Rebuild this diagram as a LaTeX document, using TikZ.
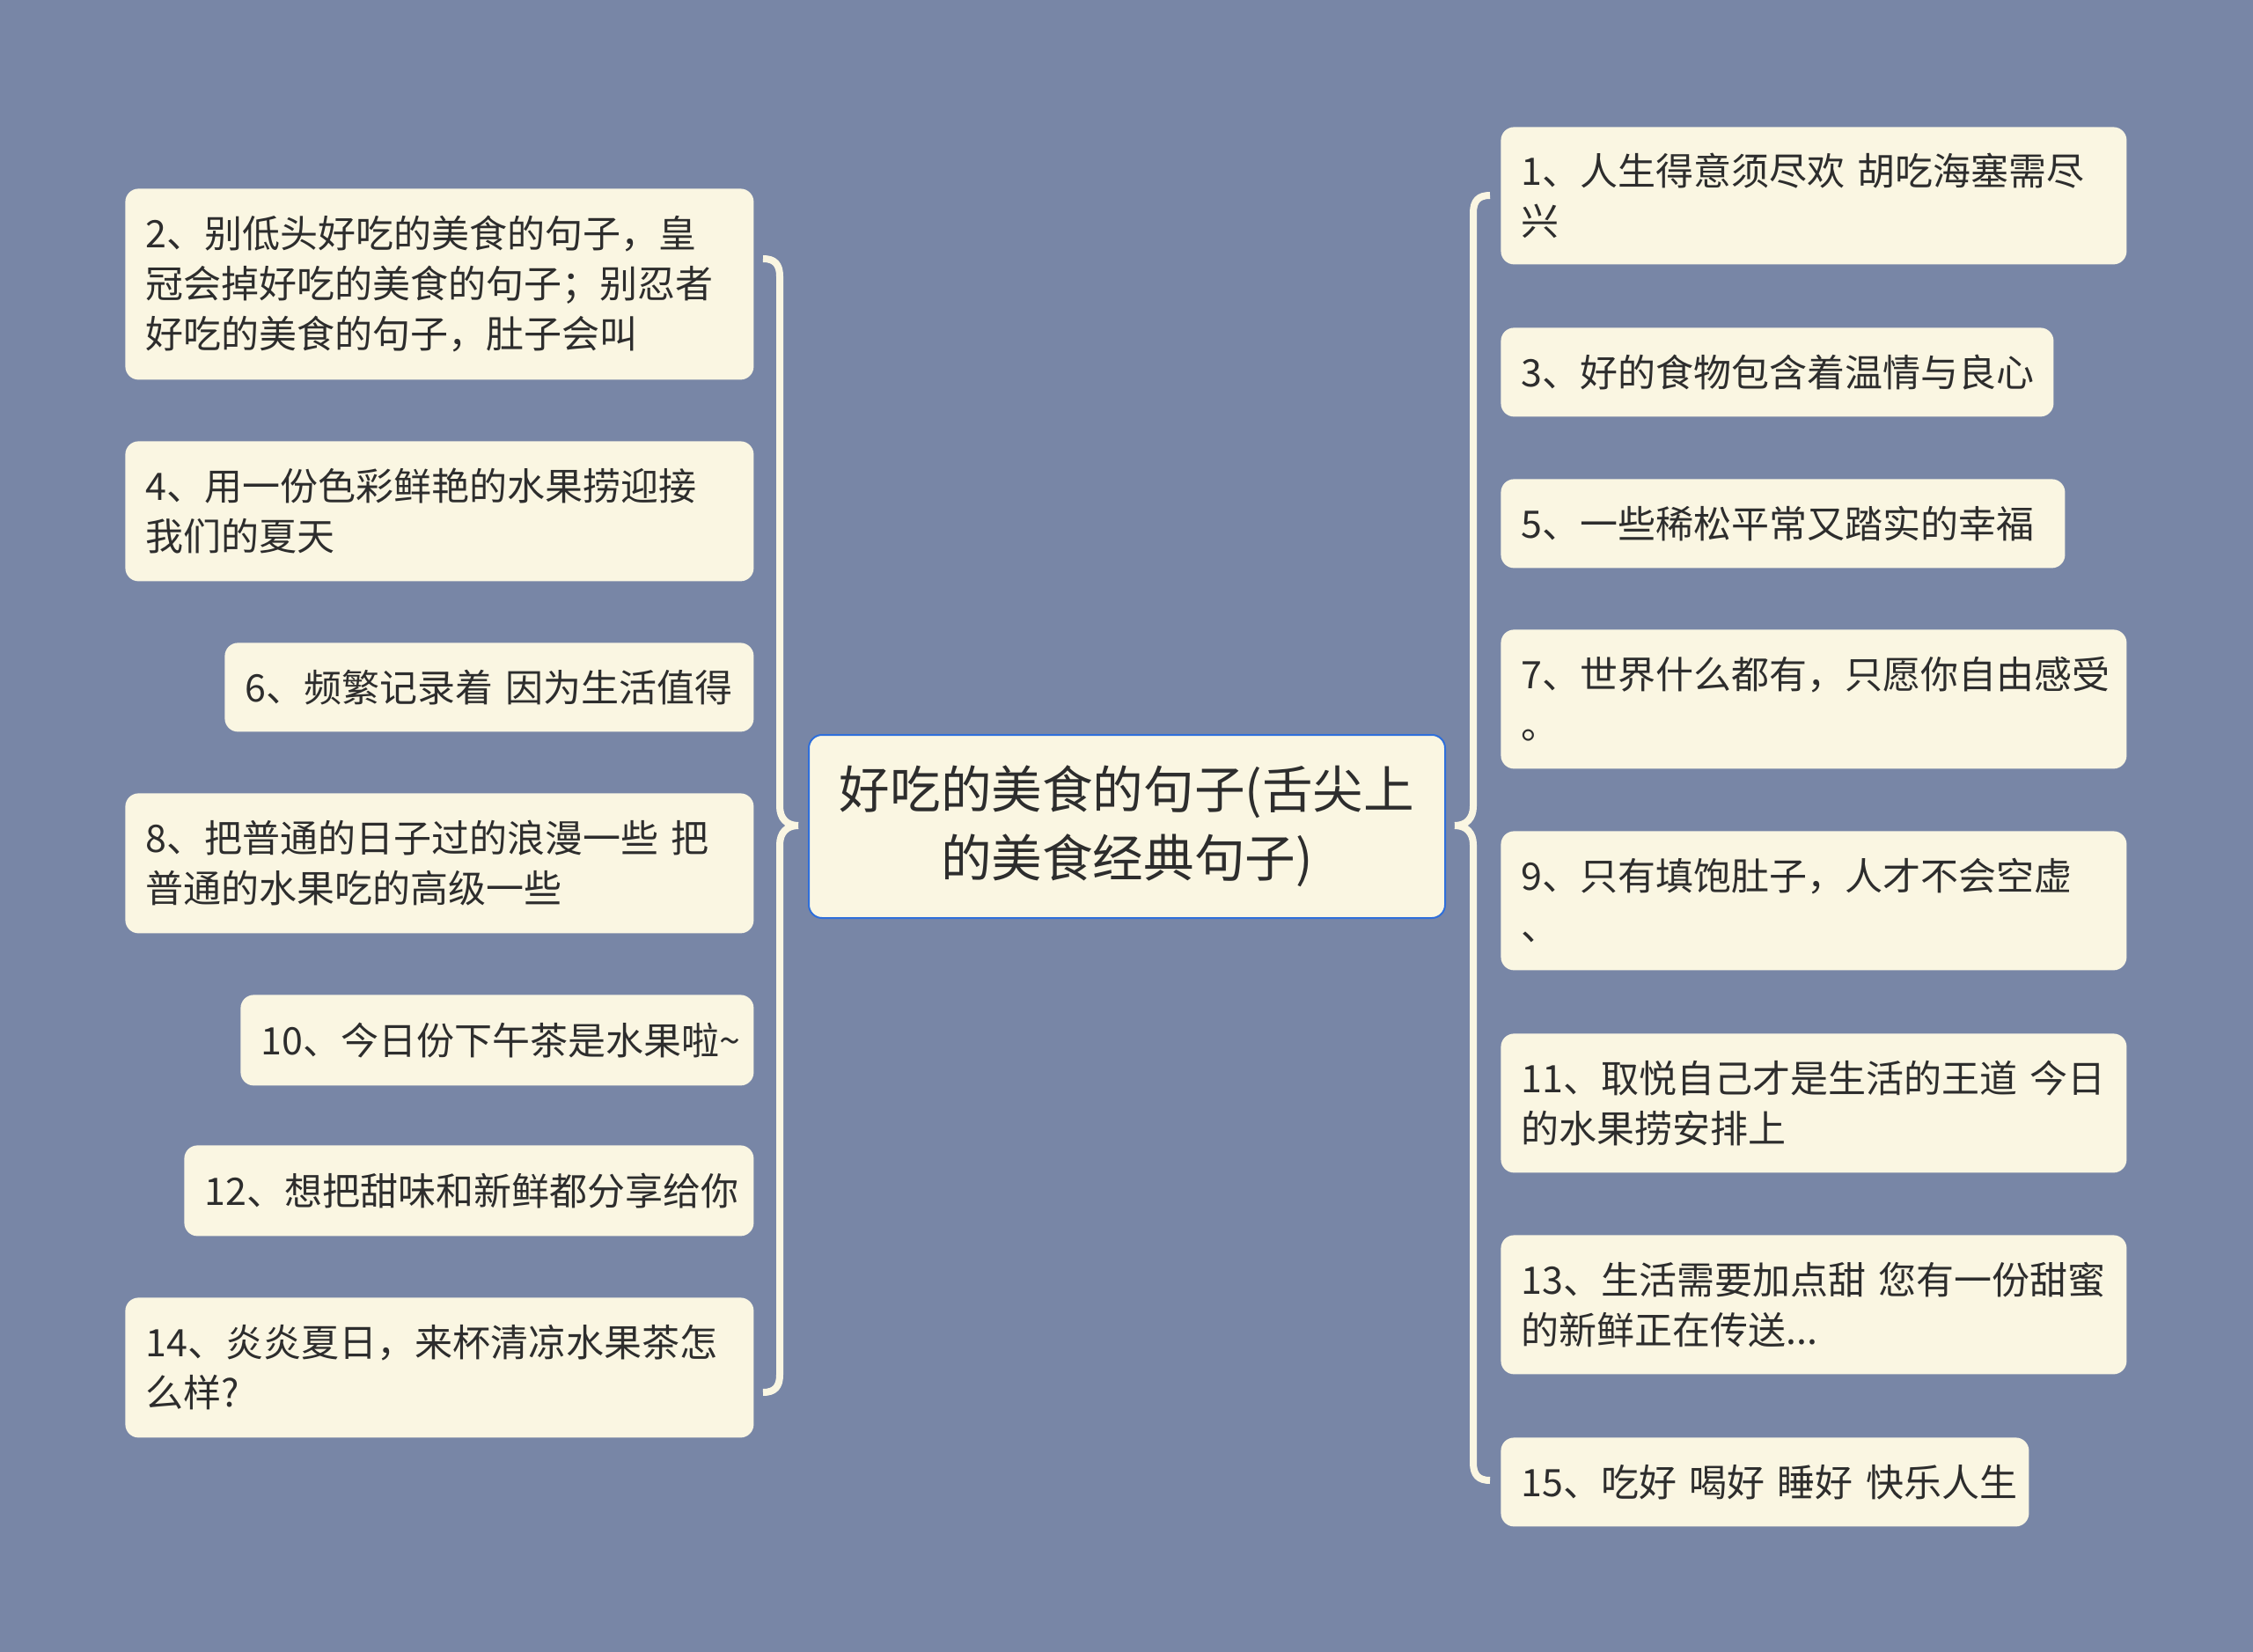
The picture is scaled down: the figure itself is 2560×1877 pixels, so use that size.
\documentclass[tikz,border=0pt]{standalone}
\usepackage{fontspec}
\setmainfont{Noto Sans CJK SC}
\definecolor{bg}{RGB}{120,134,166}
\definecolor{cream}{RGB}{250,246,226}
\definecolor{txt}{RGB}{45,45,45}
\definecolor{blueb}{RGB}{47,111,219}
\tikzset{
  leaf/.style={fill=cream, rounded corners=7.5pt, anchor=north west, inner xsep=11.5pt, inner ysep=0pt,
    align=left, font=\fontsize{21.5pt}{28.5pt}\selectfont, text=txt},
  rootbox/.style={fill=cream, draw=blueb, line width=1pt, rounded corners=7.5pt, anchor=north west,
    inner sep=0pt, align=center, font=\fontsize{28.8pt}{39pt}\selectfont, text=txt,
    minimum width=361.5pt, minimum height=104pt, text width=340pt},
  conn/.style={draw=cream, line width=4pt}
}
\begin{document}
\begin{tikzpicture}[x=0.5pt,y=-0.5pt]
\fill[bg] (0,0) rectangle (2560,1877);
\useasboundingbox (0,0) rectangle (2560,1877);

\node[rootbox] (c) at (918,834) {好吃的美食的句子(舌尖上\\的美食经典句子)};

% left children
\node[leaf, text width=334pt, minimum height=108.5pt] (n2) at (142,214) {2、别低头好吃的美食的句子，皇\\冠会掉好吃的美食的句子；别忍者\\好吃的美食的句子，肚子会叫};
\node[leaf, text width=334pt, minimum height=79.5pt] (n4) at (142,501) {4、用一份色彩鲜艳的水果捞迎接\\我们的夏天};
\node[leaf, text width=277.5pt, minimum height=50.5pt] (n6) at (255,730) {\mbox{6、频繁记录着 因为生活值得}};
\node[leaf, text width=334pt, minimum height=79.5pt] (n8) at (142,901) {8、把普通的日子过的浪漫一些 把\\普通的水果吃的高级一些};
\node[leaf, text width=268.5pt, minimum height=51.5pt] (n10) at (273,1130) {\mbox{10、今日份下午茶是水果啦\textasciitilde}};
\node[leaf, text width=300.5pt, minimum height=51.5pt] (n12) at (209,1301) {\mbox{12、想把甜味和新鲜都分享给你}};
\node[leaf, text width=334pt, minimum height=79.5pt] (n14) at (142,1474) {14、炎炎夏日，来杯清凉水果茶怎\\么样?};

% right children
\node[leaf, text width=332.5pt, minimum height=78pt] (n1) at (1705,144) {1、人生得意须尽欢 胡吃海塞需尽\\兴};
\node[leaf, text width=291pt, minimum height=50.5pt] (n3) at (1705,372) {\mbox{3、好的食物包含着温情与良心}};
\node[leaf, text width=297.5pt, minimum height=50.5pt] (n5) at (1705,544) {\mbox{5、一些稀松平常又踏实的幸福}};
\node[leaf, text width=332.5pt, minimum height=79pt] (n7) at (1705,715) {7、世界什么都有，只愿你自由感受\\。};
\node[leaf, text width=332.5pt, minimum height=79pt] (n9) at (1705,944) {9、只有填饱肚子，人才不会空虚\\、};
\node[leaf, text width=332.5pt, minimum height=79pt] (n11) at (1705,1174) {11、取悦自己才是生活的王道 今日\\的水果捞安排上};
\node[leaf, text width=332.5pt, minimum height=79pt] (n13) at (1705,1403) {13、生活需要加点甜 您有一份甜蜜\\的新鲜正在传送...};
\node[leaf, text width=277pt, minimum height=50.5pt] (n15) at (1705,1633) {\mbox{15、吃好 喝好 睡好 快乐人生}};

% connector points
\coordinate (lt) at (907,938);
\coordinate (rt) at (1653,938);
\coordinate (lend1) at (867,294);
\coordinate (lend2) at (867,1582);
\coordinate (rend1) at (1693,222);
\coordinate (rend2) at (1693,1682);

% left brace
\draw[conn] (lend1) .. controls (880,294) and (886,300) .. (886,314) -- (886,916)
  .. controls (886,930) and (894,938) .. (lt);
\draw[conn] (lt) .. controls (894,938) and (886,946) .. (886,960) -- (886,1562)
  .. controls (886,1576) and (880,1582) .. (lend2);
% right brace
\draw[conn] (rend1) .. controls (1680,222) and (1674,228) .. (1674,242) -- (1674,916)
  .. controls (1674,930) and (1666,938) .. (rt);
\draw[conn] (rt) .. controls (1666,938) and (1674,946) .. (1674,960) -- (1674,1662)
  .. controls (1674,1676) and (1680,1682) .. (rend2);
\end{tikzpicture}
\end{document}
